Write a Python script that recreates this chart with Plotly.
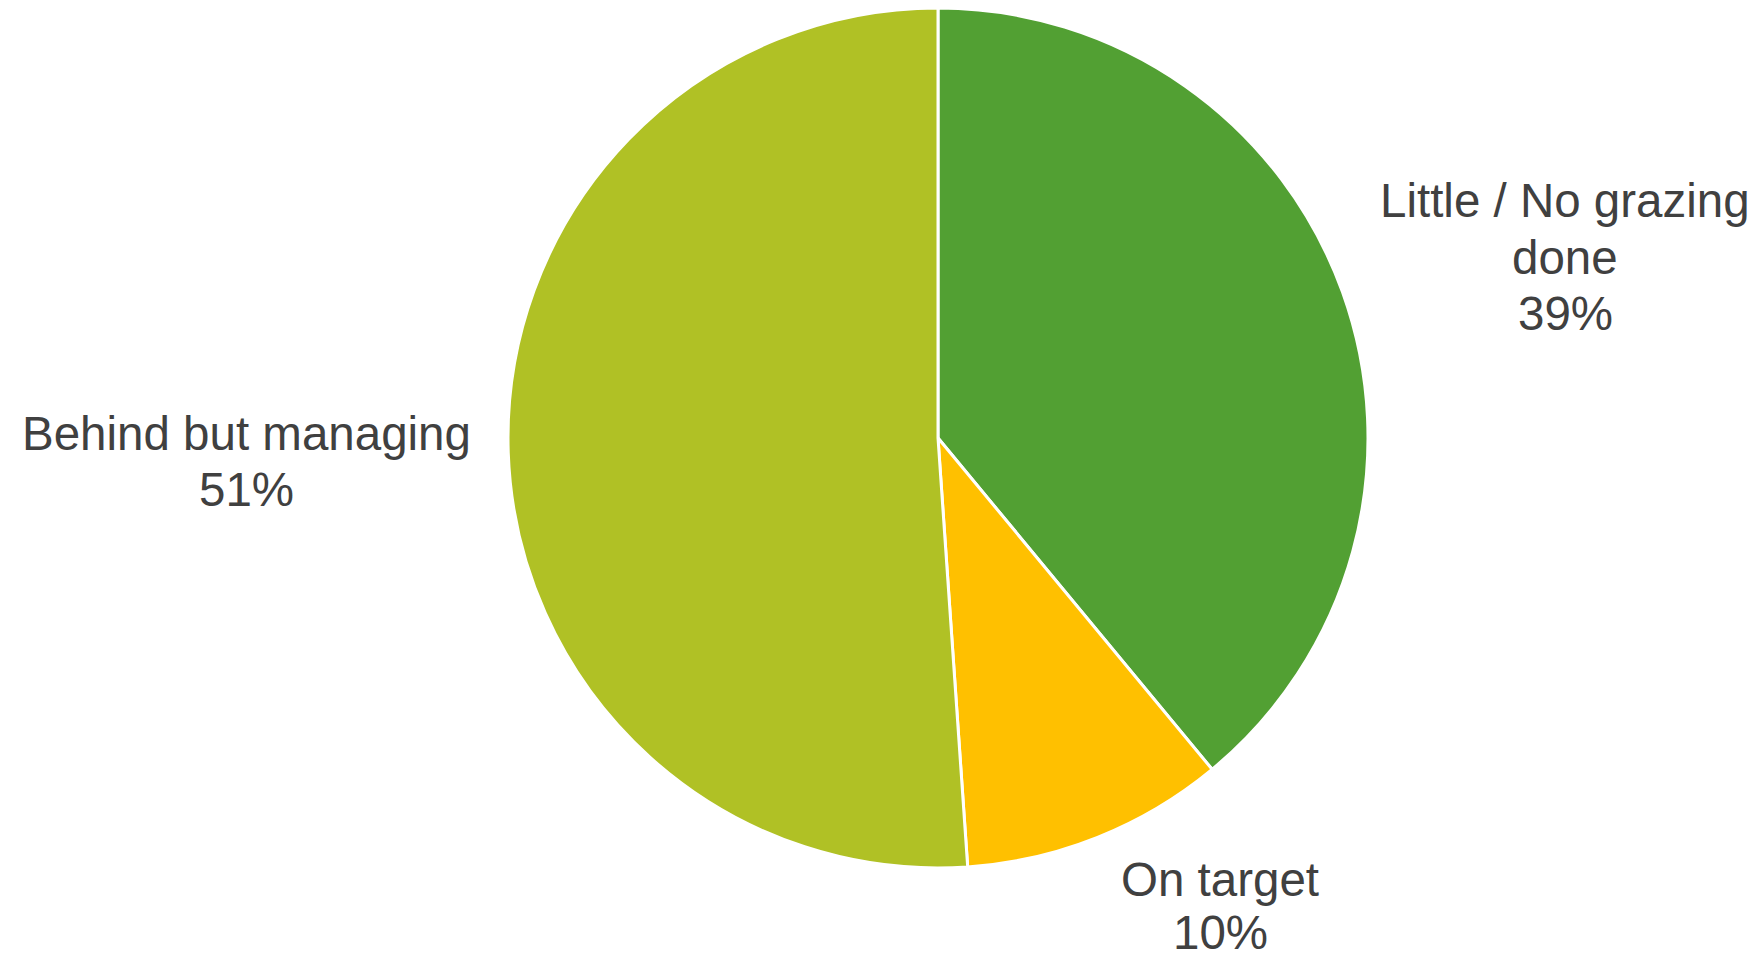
import plotly.graph_objects as go

categories = ["Little / No grazing done", "On target", "Behind but managing"]
label_lines = [["Little / No grazing", "done"], ["On target"], ["Behind but managing"]]
values = [39.0, 9.9, 51.1]
colors = ["#52A033", "#FFC000", "#B0C125"]

W, H = 1760, 960
fig = go.Figure(go.Pie(
    labels=categories,
    values=values,
    sort=False,
    direction="clockwise",
    rotation=0,
    marker=dict(colors=colors, line=dict(color="white", width=3)),
    textinfo="none",
    hoverinfo="label+percent",
    showlegend=False,
    domain=dict(x=[(938 - 430) / W, (938 + 430) / W], y=[1 - 868 / H, 1 - 8 / H]),
))

# label anchor (center x, first line center y) in pixels
label_pos = [(1565, 201), (1220, 879), (246, 433)]
line_gaps = [56, 53, 56]
total = sum(values)
for lines, v, (cx, cy), gap in zip(label_lines, values, label_pos, line_gaps):
    all_lines = lines + [f"{round(100 * v / total)}%"]
    for i, t in enumerate(all_lines):
        fig.add_annotation(
            x=cx / W, y=1 - (cy + i * gap) / H, xref="paper", yref="paper",
            text=t, showarrow=False, xanchor="center", yanchor="middle",
            font=dict(family="Liberation Sans, Arial, sans-serif", size=47.5, color="#404040"),
        )

fig.update_layout(
    width=W, height=H,
    margin=dict(l=0, r=0, t=0, b=0),
    paper_bgcolor="white", plot_bgcolor="white",
)
fig.write_html("out.html")
